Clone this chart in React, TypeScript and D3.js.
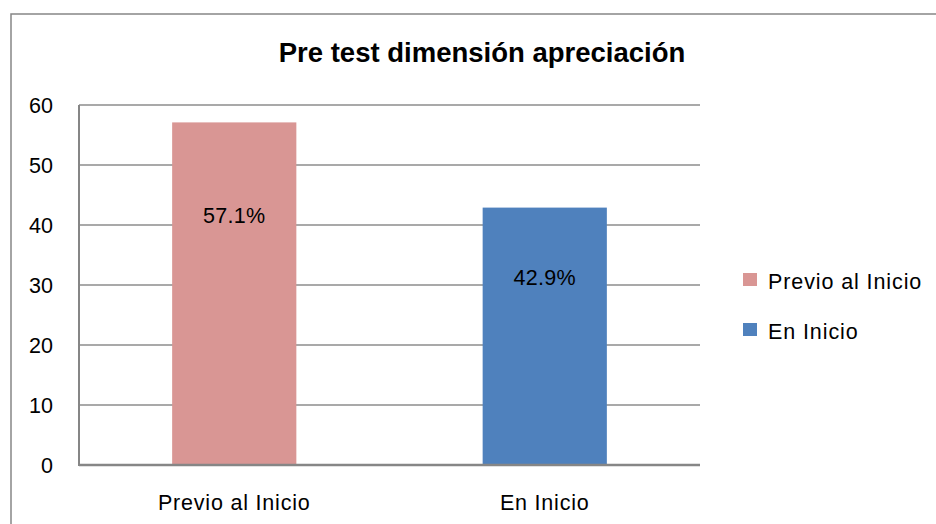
import React from 'react';
import * as d3 from 'd3';

const categories = ['Previo al Inicio', 'En Inicio'];
const values = [57.1, 42.9];
const valueLabels = ['57.1%', '42.9%'];
const colors = ['#D99694', '#4F81BD'];
const yTicks = [0, 10, 20, 30, 40, 50, 60];
const title = 'Pre test dimensión apreciación';

const W = 936;
const H = 524;
const margin = { top: 105, right: 236, bottom: 59, left: 79 };
const font = '"Liberation Sans", Arial, sans-serif';

const App: React.FC = () => {
  const x = d3
    .scaleBand<string>()
    .domain(categories)
    .range([margin.left, W - margin.right])
    .paddingInner(0.6)
    .paddingOuter(0.3);

  const y = d3
    .scaleLinear()
    .domain([0, 60])
    .range([H - margin.bottom, margin.top]);

  const x0 = margin.left;
  const x1 = W - margin.right;

  return (
    <svg width={W} height={H} style={{ position: 'absolute', left: 0, top: 0, background: '#fff' }}>
      {/* outer chart frame */}
      <rect x={11} y={14} width={W} height={H} fill="#fff" stroke="#868686" strokeWidth={1.5} />

      <text x={482} y={62} textAnchor="middle" fontFamily={font} fontWeight="bold" fontSize={27.5} fill="#000">
        {title}
      </text>

      {/* gridlines + y ticks */}
      {yTicks.map((t) => (
        <g key={t}>
          {t > 0 && <line x1={x0} x2={x1} y1={y(t)} y2={y(t)} stroke="#8c8c8c" strokeWidth={1.5} />}
          <text x={53} y={y(t) + 8} textAnchor="end" fontFamily={font} fontSize={21.5} fill="#000">
            {t}
          </text>
        </g>
      ))}

      {/* bars */}
      {categories.map((c, i) => (
        <rect
          key={c}
          x={x(c)}
          y={y(values[i])}
          width={x.bandwidth()}
          height={y(0) - y(values[i])}
          fill={colors[i]}
        />
      ))}

      {/* data labels */}
      {categories.map((c, i) => (
        <text
          key={c}
          x={x(c)! + x.bandwidth() / 2}
          y={y(values[i] * 0.73) + 8}
          textAnchor="middle"
          fontFamily={font}
          fontSize={21.5}
          letterSpacing={0.3}
          fill="#000"
        >
          {valueLabels[i]}
        </text>
      ))}

      {/* axes */}
      <line x1={x0} x2={x0} y1={y(60)} y2={y(0) + 1} stroke="#868686" strokeWidth={2} />
      <line x1={x0} x2={x1} y1={y(0)} y2={y(0)} stroke="#868686" strokeWidth={2.5} />

      {/* x labels */}
      {categories.map((c) => (
        <text
          key={c}
          x={x(c)! + x.bandwidth() / 2}
          y={510}
          textAnchor="middle"
          fontFamily={font}
          fontSize={21.5}
          letterSpacing={0.8}
          fill="#000"
        >
          {c}
        </text>
      ))}

      {/* legend */}
      {categories.map((c, i) => (
        <g key={c} transform={`translate(743, ${273 + i * 50})`}>
          <rect width={14} height={13} fill={colors[i]} />
          <text x={25} y={16} fontFamily={font} fontSize={21.5} letterSpacing={0.9} fill="#000">
            {c}
          </text>
        </g>
      ))}
    </svg>
  );
};

export default App;
